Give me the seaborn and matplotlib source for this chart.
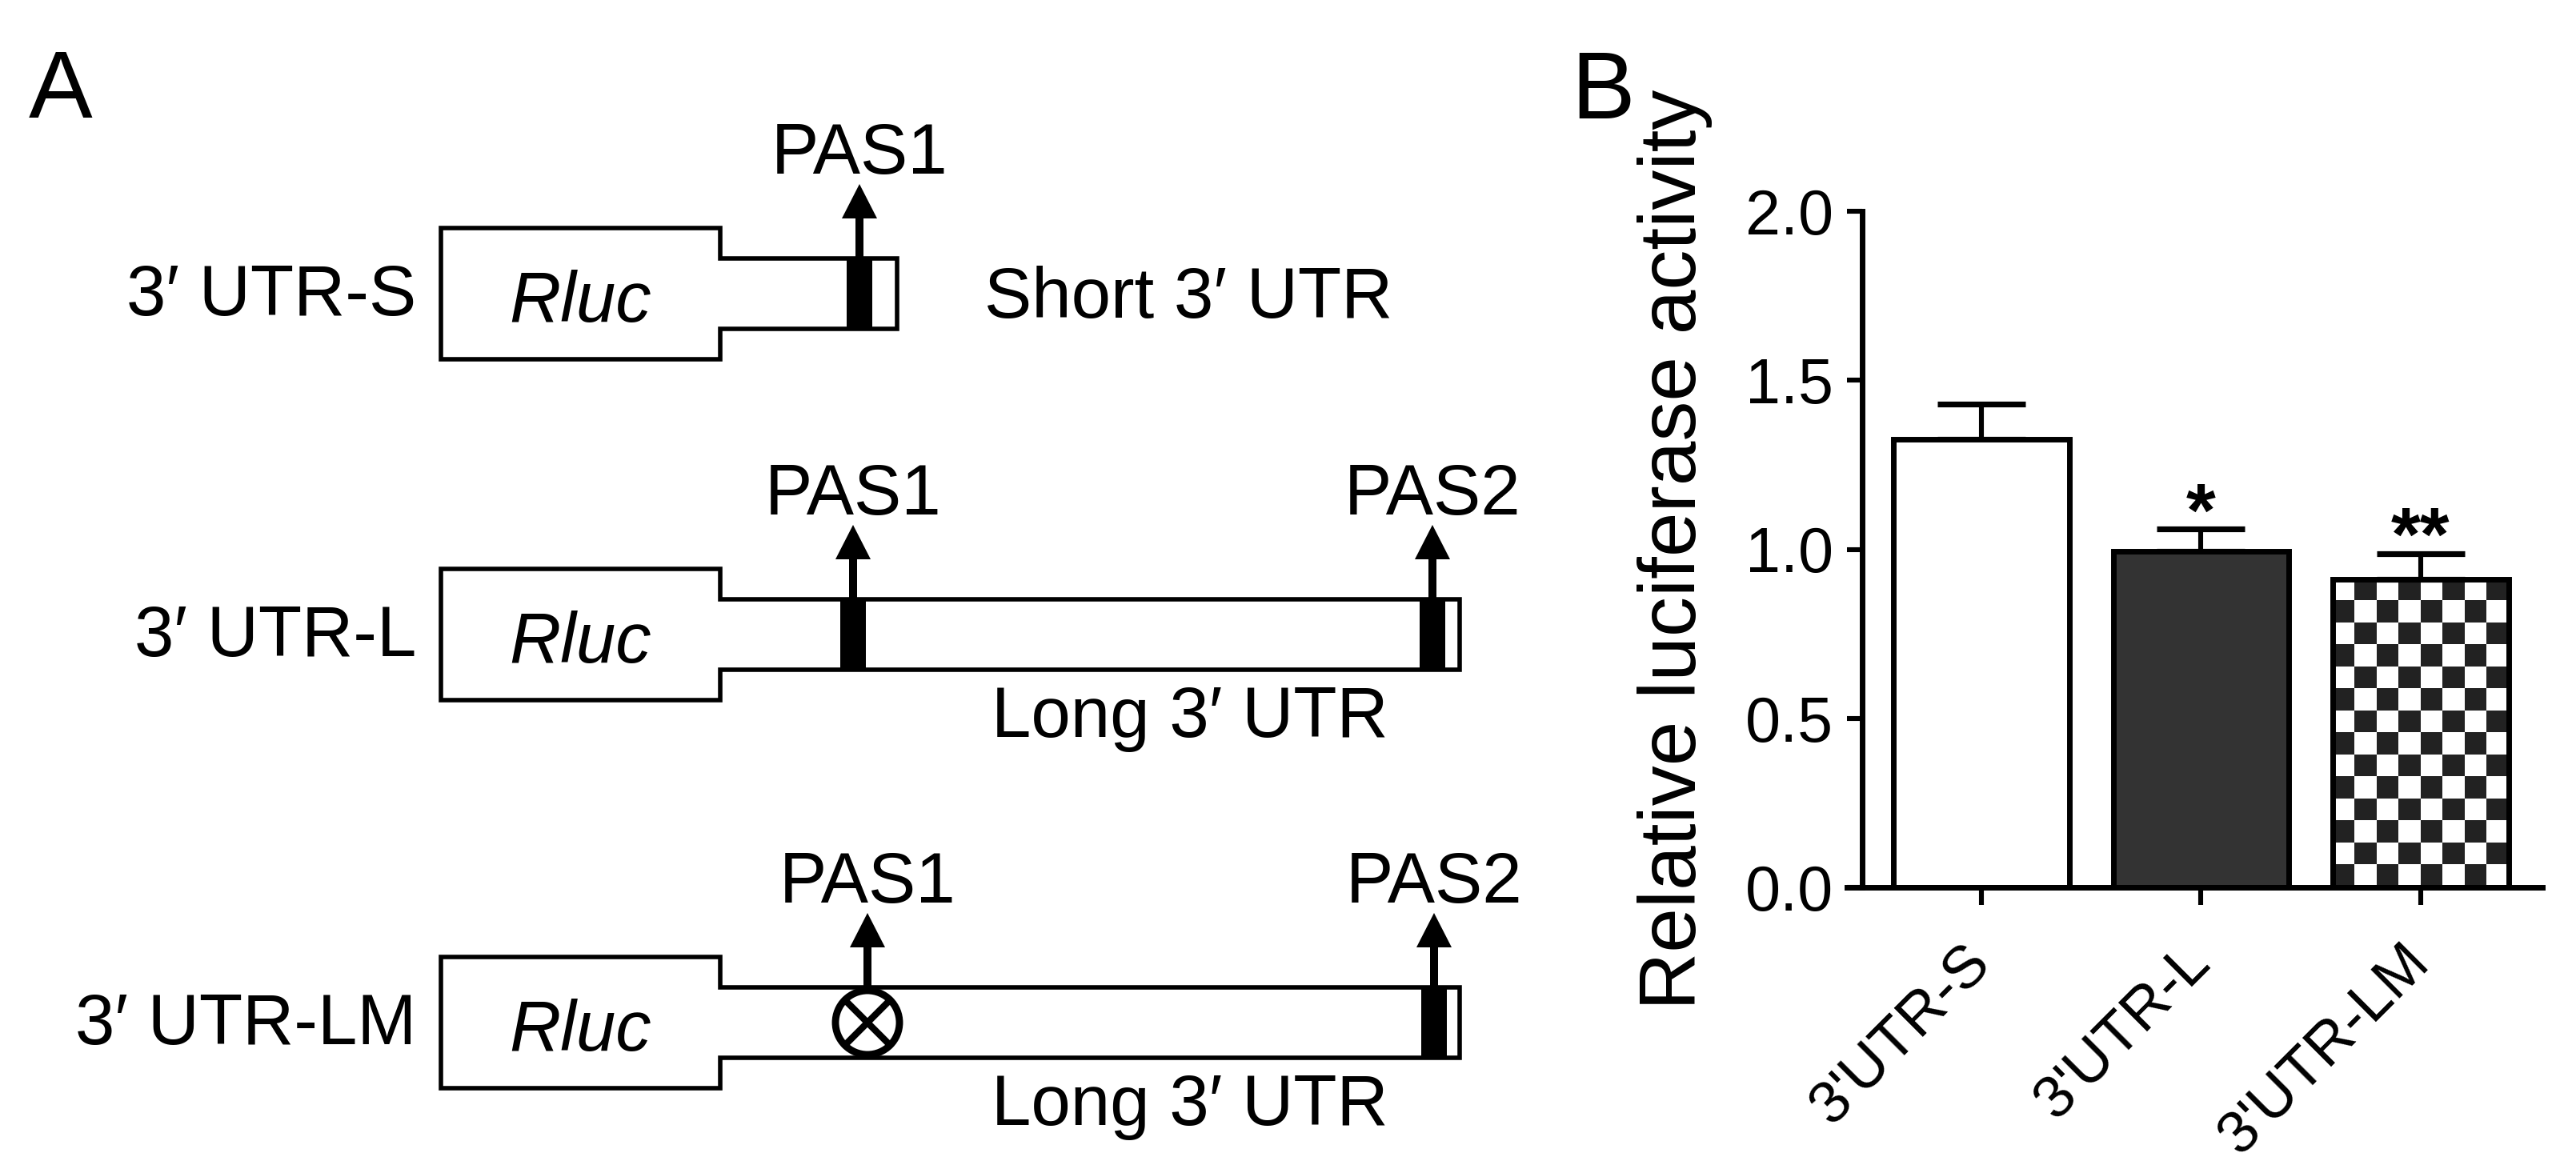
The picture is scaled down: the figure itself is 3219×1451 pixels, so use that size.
"""
plot.py — 3' UTR reporter constructs (A) and relative luciferase activity (B)
"""
import matplotlib
matplotlib.use("Agg")
import matplotlib.pyplot as plt
import numpy as np
import pandas as pd
import seaborn as sns
from matplotlib.colors import ListedColormap
from matplotlib.patches import Circle, Polygon, Rectangle

# ---- panel B data ----
groups = ["3'UTR-S", "3'UTR-L", "3'UTR-LM"]
means = [1.325, 0.993, 0.912]
sems = [0.105, 0.067, 0.076]
stars = ["", "*", "**"]
bar_colors = ["#FFFFFF", "#333333", "#FFFFFF"]
yticks = [0.0, 0.5, 1.0, 1.5, 2.0]
ylabel = "Relative luciferase activity"

# ---- panel A constructs ----
construct_names = ["3′ UTR-S", "3′ UTR-L", "3′ UTR-LM"]
utr_names = ["Short 3′ UTR", "Long 3′ UTR", "Long 3′ UTR"]
utr_label_side = ["right", "below", "below"]
utr_ends = [1121, 1824, 1824]
pas_sites = [[1074], [1066, 1790], [1084, 1792]]
pas_names = [["PAS1"], ["PAS1", "PAS2"], ["PAS1", "PAS2"]]
pas_mutated = [[False], [False, False], [True, False]]

W, H, DPI = 3219, 1451, 200
ROW_Y = [367, 793, 1278]
RLUC_L, RLUC_R, RLUC_H, UTR_H = 551, 900, 82, 44
ARROW_RISE = 137
TXT = 32


def setup_style():
    sns.set_theme(style="ticks")
    plt.rcParams["font.family"] = ["Liberation Sans", "DejaVu Sans"]
    plt.rcParams.update({
        "text.color": "black",
        "axes.labelcolor": "black",
        "axes.edgecolor": "black",
        "xtick.color": "black",
        "ytick.color": "black",
        "xtick.labelcolor": "black",
        "ytick.labelcolor": "black",
    })


def draw_constructs(ax):
    ax.set_xlim(0, W)
    ax.set_ylim(H, 0)
    ax.axis("off")
    for i, yc in enumerate(ROW_Y):
        end = utr_ends[i]
        pts = [(RLUC_L, yc - RLUC_H), (RLUC_R, yc - RLUC_H), (RLUC_R, yc - UTR_H),
               (end, yc - UTR_H), (end, yc + UTR_H), (RLUC_R, yc + UTR_H),
               (RLUC_R, yc + RLUC_H), (RLUC_L, yc + RLUC_H)]
        ax.add_patch(Polygon(pts, closed=True, fc="white", ec="black", lw=2.0, zorder=2))
        ax.text((RLUC_L + RLUC_R) / 2, yc + 35, "Rluc", style="italic",
                fontsize=TXT, ha="center", va="baseline")
        ax.text(520, yc + 27, construct_names[i], fontsize=TXT, ha="right", va="baseline")

        for x, name, mut in zip(pas_sites[i], pas_names[i], pas_mutated[i]):
            if mut:
                r = 40
                ax.add_patch(Circle((x, yc), r, fc="white", ec="black", lw=3.2, zorder=4))
                d = r * 0.707
                ax.plot([x - d, x + d], [yc - d, yc + d], color="black", lw=3.0, zorder=5)
                ax.plot([x - d, x + d], [yc + d, yc - d], color="black", lw=3.0, zorder=5)
                start = yc - r
            else:
                ax.add_patch(Rectangle((x - 16, yc - UTR_H - 2), 32, 2 * UTR_H + 4,
                                       fc="black", lw=0, zorder=3))
                start = yc - UTR_H
            tip = yc - ARROW_RISE
            ax.arrow(x, start, 0, tip - start, width=10, head_width=44,
                     head_length=43, length_includes_head=True, fc="black", ec="black",
                     lw=0, zorder=3)
            ax.text(x, tip - 13, name, fontsize=TXT, ha="center", va="baseline")

        if utr_label_side[i] == "right":
            ax.text(end + 109, yc + 30, utr_names[i], fontsize=TXT, ha="left", va="baseline")
        else:
            ax.text((RLUC_R + end) / 2 + 125, yc + 128, utr_names[i], fontsize=TXT,
                    ha="center", va="baseline")

    ax.text(36, 147, "A", fontsize=43, ha="left", va="baseline")
    ax.text(1963, 148, "B", fontsize=43, ha="left", va="baseline")


def draw_bars(ax):
    df = pd.DataFrame({"group": groups, "mean": means})
    sns.barplot(data=df, x="group", y="mean", hue="group", palette=bar_colors,
                legend=False, width=0.8, saturation=1, edgecolor="black",
                linewidth=2.5, errorbar=None, ax=ax)
    ax.errorbar(np.arange(len(groups)), means, yerr=[np.zeros(len(sems)), sems],
                fmt="none", ecolor="black", elinewidth=2.2, capsize=19.8, capthick=2.6,
                zorder=0.8)

    xlim, ylim = (-0.612, 2.554), (0, 2.0)
    ax.set_xlim(*xlim)
    ax.set_ylim(*ylim)

    # checkerboard fill for the mutant bar (top-left square white)
    patch = ax.patches[2]
    patch.set_facecolor("none")
    x0, w, h = patch.get_x(), patch.get_width(), patch.get_height()
    p0 = ax.transData.transform((x0, 0))
    p1 = ax.transData.transform((x0 + w, h))
    ncols = 8
    sq_px = (p1[0] - p0[0]) / ncols
    nrows = int(np.ceil((p1[1] - p0[1]) / sq_px))
    sq_data = h / ((p1[1] - p0[1]) / sq_px)
    board = np.indices((nrows, ncols)).sum(axis=0) % 2
    img = ax.imshow(board, cmap=ListedColormap(["white", "#222222"]),
                    extent=(x0, x0 + w, h - nrows * sq_data, h), aspect="auto",
                    origin="upper", interpolation="nearest", zorder=0.5)
    img.set_clip_path(patch)

    for i, s in enumerate(stars):
        if s:
            ax.text(i, means[i] + sems[i] - 0.02, s, fontsize=34, fontweight="bold",
                    ha="center", va="baseline")

    ax.set_xlim(*xlim)
    ax.set_ylim(*ylim)
    sns.despine(ax=ax)
    ax.spines["left"].set_position(("data", -0.543))
    for sp in ("left", "bottom"):
        ax.spines[sp].set_linewidth(2.5)
        ax.spines[sp].set_color("black")
    ax.set_yticks(yticks)
    ax.set_yticklabels([f"{t:.1f}" for t in yticks])
    ax.tick_params(axis="y", length=6.8, width=2.2, labelsize=28.5, pad=6)
    ax.tick_params(axis="x", length=8, width=2.2, labelsize=27, pad=22)
    ax.set_xticks(range(len(groups)))
    ax.set_xticklabels(groups, rotation=45, ha="right", va="center",
                       rotation_mode="anchor")
    ax.set_xlabel("")
    ax.set_ylabel(ylabel, fontsize=36)
    ax.yaxis.set_label_coords(-0.193, 0.5)


def main():
    setup_style()
    fig = plt.figure(figsize=(W / DPI, H / DPI), dpi=DPI)
    fig.patch.set_facecolor("white")
    ax_a = fig.add_axes([0, 0, 1, 1])
    draw_constructs(ax_a)
    ax_b = fig.add_axes([2308 / W, 1 - 1109 / H, (3177 - 2308) / W, (1109 - 264) / H])
    ax_b.patch.set_alpha(0)
    draw_bars(ax_b)
    fig.savefig("out.png", dpi=DPI)
    plt.close(fig)


if __name__ == "__main__":
    main()
